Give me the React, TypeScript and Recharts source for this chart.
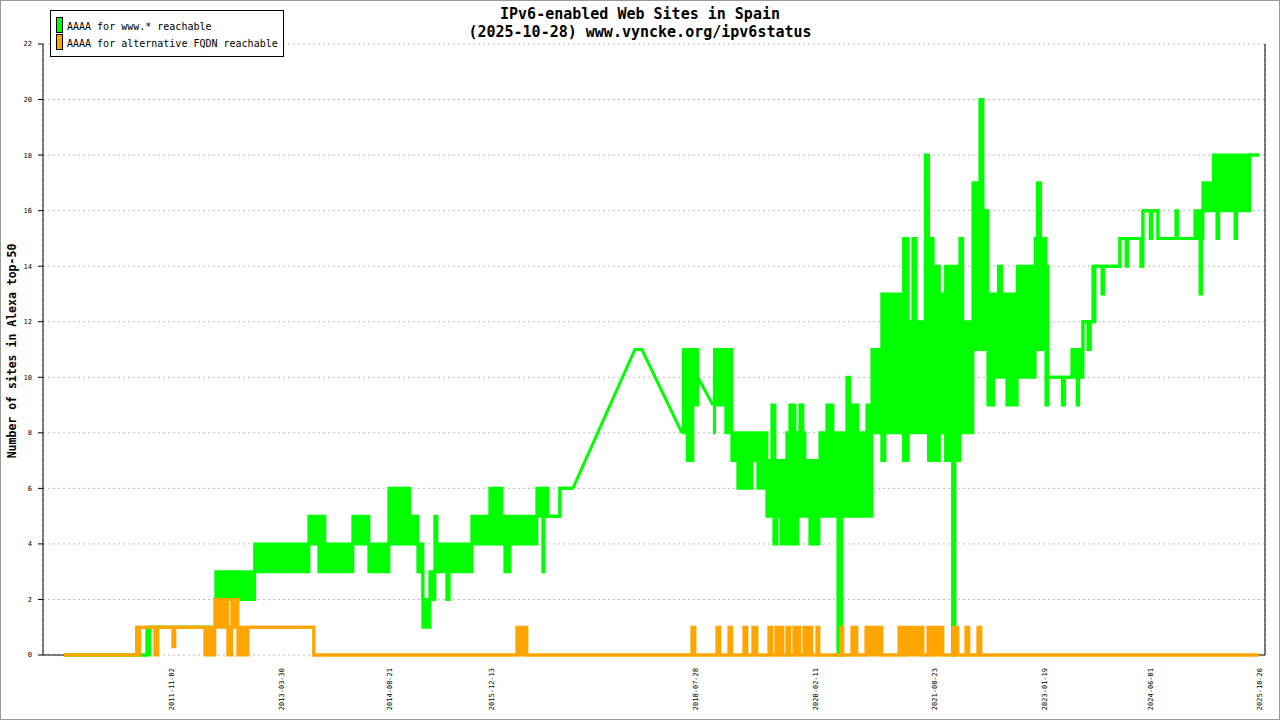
import React from "react";
import {
  ComposedChart,
  Area,
  Line,
  XAxis,
  YAxis,
  CartesianGrid,
  ReferenceLine,
} from "recharts";

type Row = [number, number, number]; // [decimal year, low, high]

const FONT = "'DejaVu Sans Mono', monospace";
const GREEN = "#00ff00";
const ORANGE = "#ffa500";

const X_MIN = 2010.18;
const X_MAX = 2025.885;

const dateLabels = [
  "2011-11-02",
  "2013-03-30",
  "2014-08-21",
  "2015-12-13",
  "2018-07-28",
  "2020-02-11",
  "2021-08-23",
  "2023-01-19",
  "2024-06-01",
  "2025-10-26",
];

const yTicks = [0, 2, 4, 6, 8, 10, 12, 14, 16, 18, 20, 22];

// AAAA for www.* reachable, dense part up to 2016 (value oscillates between low and high)
const wwwEarly: Row[] = [
  [2010.448, 0, 0],
  [2011.386, 0, 1],
  [2011.41, 0, 0],
  [2011.514, 0, 1],
  [2011.553, 1, 1],
  [2012.401, 2, 3],
  [2012.9, 3, 4],
  [2013.597, 4, 5],
  [2013.725, 3, 4],
  [2013.764, 4, 5],
  [2013.802, 3, 4],
  [2014.162, 4, 5],
  [2014.368, 3, 4],
  [2014.625, 4, 6],
  [2014.895, 4, 5],
  [2014.998, 3, 4],
  [2015.062, 1, 2],
  [2015.152, 2, 3],
  [2015.216, 3, 5],
  [2015.242, 3, 4],
  [2015.37, 2, 4],
  [2015.4, 3, 4],
  [2015.692, 4, 5],
  [2015.923, 4, 6],
  [2016.077, 4, 5],
  [2016.116, 3, 5],
  [2016.18, 4, 5],
  [2016.527, 5, 6],
  [2016.604, 3, 6],
  [2016.62, 5, 6],
  [2016.668, 5, 5],
  [2016.823, 6, 6],
  [2016.99, 6, 6],
];

// sparse measurements 2017-2018
const wwwSparse: [number, number | null][] = [
  [2016.99, 6],
  [2017.787, 11],
  [2017.877, 11],
  [2018.391, 8],
  [2018.45, null],
  [2018.596, 10],
  [2018.789, 9],
];

const wwwMid: Row[] = [
  [2018.391, 8, 11],
  [2018.46, 7, 11],
  [2018.532, 9, 11],
  [2018.596, 10, 10],
];

const wwwLate: Row[] = [
  [2018.789, 8, 10],
  [2018.81, 9, 11],
  [2018.956, 8, 11],
  [2019.033, 7, 8],
  [2019.11, 6, 8],
  [2019.175, 7, 8],
  [2019.213, 6, 8],
  [2019.29, 7, 8],
  [2019.367, 6, 8],
  [2019.483, 5, 7],
  [2019.548, 5, 9],
  [2019.573, 4, 9],
  [2019.586, 4, 7],
  [2019.612, 5, 7],
  [2019.663, 4, 7],
  [2019.74, 4, 8],
  [2019.779, 4, 9],
  [2019.805, 5, 9],
  [2019.843, 4, 8],
  [2019.882, 5, 8],
  [2019.907, 5, 9],
  [2019.946, 5, 8],
  [2019.972, 5, 7],
  [2020.036, 4, 7],
  [2020.152, 5, 7],
  [2020.165, 5, 8],
  [2020.255, 5, 9],
  [2020.332, 5, 8],
  [2020.396, 0, 8],
  [2020.447, 5, 8],
  [2020.511, 5, 10],
  [2020.55, 5, 8],
  [2020.589, 5, 9],
  [2020.653, 5, 8],
  [2020.769, 5, 9],
  [2020.807, 5, 8],
  [2020.833, 8, 11],
  [2020.96, 7, 13],
  [2021.0, 8, 11],
  [2021.025, 8, 13],
  [2021.064, 8, 11],
  [2021.103, 8, 13],
  [2021.24, 7, 15],
  [2021.3, 8, 12],
  [2021.36, 8, 15],
  [2021.4, 8, 12],
  [2021.52, 8, 18],
  [2021.56, 7, 15],
  [2021.62, 7, 14],
  [2021.7, 8, 13],
  [2021.78, 7, 14],
  [2021.87, 0, 14],
  [2021.9, 7, 14],
  [2021.964, 8, 15],
  [2022.0, 8, 12],
  [2022.131, 11, 17],
  [2022.221, 12, 20],
  [2022.26, 11, 16],
  [2022.324, 9, 13],
  [2022.4, 10, 13],
  [2022.46, 10, 14],
  [2022.5, 10, 13],
  [2022.568, 9, 13],
  [2022.7, 10, 14],
  [2022.825, 10, 14],
  [2022.93, 11, 15],
  [2022.96, 11, 17],
  [2023.0, 11, 15],
  [2023.07, 9, 14],
  [2023.095, 10, 10],
  [2023.28, 9, 10],
  [2023.31, 10, 10],
  [2023.403, 10, 11],
  [2023.47, 9, 11],
  [2023.49, 10, 11],
  [2023.545, 12, 12],
  [2023.61, 11, 12],
  [2023.64, 12, 12],
  [2023.673, 12, 14],
  [2023.699, 14, 14],
  [2023.79, 13, 14],
  [2023.81, 14, 14],
  [2024.02, 15, 15],
  [2024.1, 14, 15],
  [2024.12, 15, 15],
  [2024.29, 14, 15],
  [2024.316, 16, 16],
  [2024.41, 15, 16],
  [2024.43, 16, 16],
  [2024.509, 15, 15],
  [2024.74, 15, 16],
  [2024.76, 15, 15],
  [2024.984, 15, 16],
  [2025.05, 13, 16],
  [2025.07, 15, 16],
  [2025.087, 16, 17],
  [2025.22, 16, 18],
  [2025.267, 15, 18],
  [2025.29, 16, 18],
  [2025.5, 15, 18],
  [2025.52, 16, 18],
  [2025.691, 18, 18],
  [2025.807, 18, 18],
];

// AAAA for alternative FQDN reachable
const altRows: Row[] = [
  [2010.448, 0, 0],
  [2011.386, 0, 1],
  [2011.424, 1, 1],
  [2011.617, 0, 1],
  [2011.656, 1, 1],
  [2011.849, 0.3, 1],
  [2011.874, 1, 1],
  [2012.26, 0, 1],
  [2012.388, 1, 2],
  [2012.555, 0, 1],
  [2012.607, 1, 2],
  [2012.684, 0, 1],
  [2012.813, 1, 1],
  [2013.661, 0, 0],
  [2016.27, 0, 1],
  [2016.399, 0, 0],
  [2018.519, 0, 1],
  [2018.558, 0, 0],
  [2018.841, 0, 1],
  [2018.879, 0, 0],
  [2018.995, 0, 1],
  [2019.033, 0, 0],
  [2019.188, 0, 1],
  [2019.226, 0, 0],
  [2019.303, 0, 1],
  [2019.355, 0, 0],
  [2019.509, 0, 1],
  [2019.548, 0, 0],
  [2019.599, 0, 1],
  [2019.637, 0, 0],
  [2019.663, 0, 1],
  [2019.689, 0, 0],
  [2019.74, 0, 1],
  [2019.779, 0, 0],
  [2019.83, 0, 1],
  [2019.907, 0, 0],
  [2019.959, 0, 1],
  [2020.062, 0, 0],
  [2020.126, 0, 1],
  [2020.152, 0, 0],
  [2020.434, 0, 1],
  [2020.46, 0, 0],
  [2020.576, 0, 1],
  [2020.64, 0, 0],
  [2020.756, 0, 1],
  [2020.961, 0, 0],
  [2021.18, 0, 1],
  [2021.231, 0, 0],
  [2021.257, 0, 1],
  [2021.488, 0, 0],
  [2021.553, 0, 1],
  [2021.617, 0, 0],
  [2021.643, 0, 1],
  [2021.745, 0, 0],
  [2021.874, 0, 1],
  [2021.938, 0, 0],
  [2022.041, 0, 1],
  [2022.079, 0, 0],
  [2022.195, 0, 1],
  [2022.234, 0, 0],
  [2025.807, 0, 0],
];

const toYear = (s: string) => {
  const [y, m, d] = s.split("-").map(Number);
  const start = Date.UTC(y, 0, 1);
  const end = Date.UTC(y + 1, 0, 1);
  return y + (Date.UTC(y, m - 1, d) - start) / (end - start);
};

const toPoints = (rows: Row[]) => rows.map(([t, lo, hi]) => ({ t, lo, hi }));
const band = (d: { lo: number; hi: number }) => [d.lo, d.hi];

const dateTicks = dateLabels.map(toYear);
const gridTicks = Array.from(
  { length: 25 },
  (_, i) => X_MIN + (i * (X_MAX - X_MIN)) / 24
);

// first and last measurement: the x axis line shows only outside the series
const firstT = altRows[0][0];
const lastT = altRows[altRows.length - 1][0];

const DateTick = (props: any) => {
  const { x, y, payload } = props;
  const i = dateTicks.indexOf(payload.value);
  if (i < 0) return null;
  return (
    <g transform={`translate(${x},${y + 8}) rotate(-90)`}>
      <text
        x={0}
        y={0}
        dy="0.35em"
        textAnchor="end"
        fontSize={7}
        fontFamily={FONT}
        fill="#000"
      >
        {dateLabels[i]}
      </text>
    </g>
  );
};

const bandProps = {
  type: "stepAfter" as const,
  dataKey: band,
  strokeWidth: 3,
  fillOpacity: 1,
  dot: false,
  activeDot: false,
  isAnimationActive: false,
};

export default function App() {
  return (
    <div
      style={{
        position: "absolute",
        left: 0,
        top: 0,
        width: 1280,
        height: 720,
        background: "#fff",
      }}
    >
      <ComposedChart
        width={1280}
        height={720}
        margin={{ top: 44, right: 0, bottom: 0, left: 0 }}
      >
        <CartesianGrid stroke="#bbbbbb" strokeDasharray="2 3" />
        <XAxis
          type="number"
          dataKey="t"
          domain={[X_MIN, X_MAX]}
          allowDataOverflow
          ticks={gridTicks}
          interval={0}
          tick={false}
          tickSize={5}
          height={5}
          axisLine={false}
          tickLine={{ stroke: "#000" }}
        />
        <XAxis
          xAxisId="dates"
          type="number"
          dataKey="t"
          domain={[X_MIN, X_MAX]}
          allowDataOverflow
          ticks={dateTicks}
          interval={0}
          tick={<DateTick />}
          tickSize={0}
          tickMargin={0}
          height={60}
          axisLine={false}
          tickLine={false}
        />
        <YAxis
          type="number"
          domain={[0, 22]}
          ticks={yTicks}
          interval={0}
          width={43}
          tickSize={5}
          tickMargin={6}
          axisLine={{ stroke: "#000" }}
          tickLine={{ stroke: "#000" }}
          tick={{ fontSize: 7, fontFamily: FONT, fill: "#000" }}
        />
        <YAxis
          yAxisId="right"
          orientation="right"
          type="number"
          domain={[0, 22]}
          width={15}
          tick={false}
          tickLine={false}
          axisLine={{ stroke: "#000" }}
        />
        <ReferenceLine
          segment={[{ x: X_MIN, y: 0 }, { x: firstT, y: 0 }]}
          stroke="#000"
        />
        <ReferenceLine
          segment={[{ x: lastT, y: 0 }, { x: X_MAX, y: 0 }]}
          stroke="#000"
        />
        <Area {...bandProps} data={toPoints(wwwEarly)} stroke={GREEN} fill={GREEN} />
        <Area {...bandProps} data={toPoints(wwwMid)} stroke={GREEN} fill={GREEN} />
        <Area {...bandProps} data={toPoints(wwwLate)} stroke={GREEN} fill={GREEN} />
        <Line
          type="linear"
          data={wwwSparse.map(([t, v]) => ({ t, v }))}
          dataKey="v"
          stroke={GREEN}
          strokeWidth={3}
          dot={false}
          activeDot={false}
          isAnimationActive={false}
        />
        <Area {...bandProps} data={toPoints(altRows)} stroke={ORANGE} fill={ORANGE} />
      </ComposedChart>
      <svg
        width={1280}
        height={720}
        style={{ position: "absolute", left: 0, top: 0, pointerEvents: "none" }}
      >
        <text x={640} y={18.5} textAnchor="middle" fontSize={15} fontWeight="bold" fontFamily={FONT}>
          IPv6-enabled Web Sites in Spain
        </text>
        <text x={640} y={37} textAnchor="middle" fontSize={15} fontWeight="bold" fontFamily={FONT}>
          (2025-10-28) www.vyncke.org/ipv6status
        </text>
        <text
          x={15.5}
          y={351}
          transform="rotate(-90 15.5 351)"
          textAnchor="middle"
          fontSize={11.5}
          fontWeight="bold"
          fontFamily={FONT}
        >
          Number of sites in Alexa top-50
        </text>
        <rect x={50.5} y={10.5} width={233} height={46} fill="#fff" stroke="#000" />
        <rect x={56.5} y={17.5} width={6} height={15} fill={GREEN} stroke="#000" />
        <rect x={56.5} y={34.5} width={6} height={15} fill={ORANGE} stroke="#000" />
        <text x={67} y={30} fontSize={10} fontFamily={FONT}>
          AAAA for www.* reachable
        </text>
        <text x={67} y={47} fontSize={10} fontFamily={FONT}>
          AAAA for alternative FQDN reachable
        </text>
        <rect x={0.5} y={0.5} width={1279} height={719} fill="none" stroke="#999" />
      </svg>
    </div>
  );
}
